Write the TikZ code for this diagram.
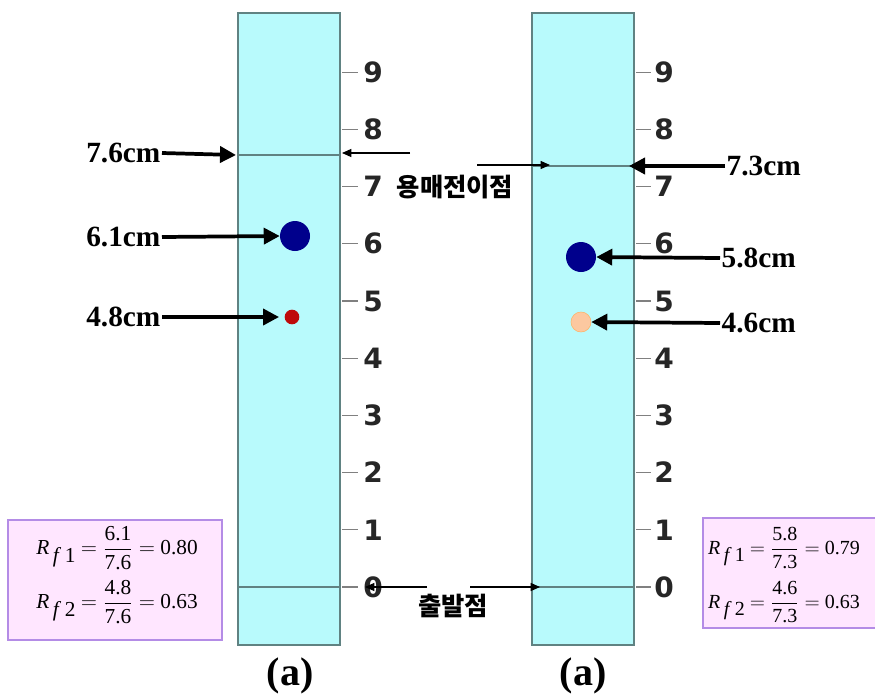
\RequirePackage{fix-cm}
\documentclass[tikz,border=0pt]{standalone}
\usepackage{amsmath}
\usepackage{fontspec}
\setmainfont{Liberation Serif}
\newfontfamily\numfont{DejaVu Sans}
\newfontfamily\krfont{Noto Sans CJK KR}
\usetikzlibrary{arrows.meta,positioning,calc}
\definecolor{stripfill}{RGB}{184,250,252}
\definecolor{stripline}{RGB}{96,130,130}
\definecolor{boxfill}{RGB}{255,230,255}
\definecolor{boxline}{RGB}{180,140,230}
\definecolor{spotblue}{RGB}{0,0,140}
\definecolor{spotred}{RGB}{190,10,10}
\definecolor{spotpeach}{RGB}{252,200,160}
\newcommand{\rfline}[4]{\textit{R}\raisebox{-0.75ex}{\,\textit{f}\,#1}\ $=\dfrac{\text{#2}}{\text{#3}}=$ #4}
\tikzset{
  strip/.style={draw=stripline, fill=stripfill, line width=1.5pt, minimum width=76.5pt, minimum height=474pt, inner sep=0pt},
  line/.style={draw=stripline, line width=1.3pt},
  tick/.style={draw=black!50, line width=0.9pt},
  num/.style={font=\numfont\bfseries\fontsize{21}{23}\selectfont, text=black!85, inner sep=0pt},
  cmlabel/.style={font=\bfseries\fontsize{22}{25}\selectfont, inner sep=1pt},
  krlabel/.style={font=\krfont\bfseries\fontsize{19}{21}\selectfont, inner sep=1pt},
  caption/.style={font=\bfseries\fontsize{30}{33}\selectfont, inner sep=0pt},
  spot/.style={circle, inner sep=0pt},
  formbox/.style={draw=boxline, fill=boxfill, line width=1pt, inner sep=0pt},
  form/.style={font=\fontsize{16}{18}\selectfont, inner sep=0pt},
  arrow/.style={-{Triangle[length=12pt,width=12pt]}, line width=2.8pt},
  thinarrow/.style={-{Triangle[length=7pt,width=6pt]}, line width=0.9pt}
}

\begin{document}
\begin{tikzpicture}[x=0.75pt,y=-0.75pt]
\useasboundingbox (0,0) rectangle (875,700);
% strips
\node[strip] (stripL) at (289,329) {};
\node[strip] (stripR) at (582.5,329) {};
% scale
\foreach \v in {0,...,9} {
  \draw[tick] (342,{587-57.2*\v}) -- (358,{587-57.2*\v});
  \node[num] (numL\v) at (373,{587-57.2*\v}) {\v};
  \draw[tick] (636,{587-57.2*\v}) -- (651,{587-57.2*\v});
  \node[num] (numR\v) at (664,{587-57.2*\v}) {\v};
}
% front and start lines
\coordinate (frontLw) at (238,155);
\coordinate (frontLe) at (340,155);
\coordinate (frontRw) at (531,166);
\coordinate (frontRe) at (634,166);
\coordinate (startLe) at (340,587);
\coordinate (startRw) at (531,587);
\draw[line] (frontLw) -- (frontLe);
\draw[line] (frontRw) -- (frontRe);
\draw[line] (238,587) -- (startLe);
\draw[line] (startRw) -- (634,587);
% spots
\node[spot, fill=spotblue, minimum size=22.5pt] (blueL) at (295,236) {};
\node[spot, fill=spotred, minimum size=11pt] (redL) at (292,317) {};
\node[spot, fill=spotblue, minimum size=22.5pt] (blueR) at (581,257) {};
\node[spot, fill=spotpeach, draw=orange!60, minimum size=15pt] (peachR) at (581,322) {};
% distance labels
\node[cmlabel, anchor=east] (frontLlbl) at (162,153) {7.6cm};
\node[cmlabel, anchor=east] (blueLlbl) at (162,237) {6.1cm};
\node[cmlabel, anchor=east] (redLlbl) at (162,317) {4.8cm};
\node[cmlabel, anchor=west] (frontRlbl) at (725,166) {7.3cm};
\node[cmlabel, anchor=west] (blueRlbl) at (720,258) {5.8cm};
\node[cmlabel, anchor=west] (peachRlbl) at (720,323) {4.6cm};
\draw[arrow] (frontLlbl.east) -- ($(frontLw)+(-2,0)$);
\draw[arrow] (blueLlbl.east) -- (blueL.west);
\draw[arrow] (redLlbl.east) -- ([xshift=-4]redL.west);
\draw[arrow] (frontRlbl.west) -- ($(frontRe)+(-5,0)$);
\draw[arrow] (blueRlbl.west) -- (blueR.east);
\draw[arrow] (peachRlbl.west) -- (peachR.east);
% solvent front / origin
\node[krlabel] (front) at (455,187) {용매전이점};
\node[krlabel] (origin) at (453,606) {출발점};
\coordinate (frontA) at (410,153);
\coordinate (frontB) at (477,165);
\coordinate (originA) at (427,587);
\coordinate (originB) at (470,587);
\draw[thinarrow] (frontA) -- ($(frontLe)+(2,-2)$);
\draw[thinarrow] (frontB) -- ($(frontRw)+(19,-1)$);
\draw[thinarrow] (originA) -- (365,587);
\draw[thinarrow] (originB) -- ($(startRw)+(9,0)$);
% Rf boxes
\node[formbox, minimum width=160.5pt, minimum height=90pt] (boxL) at (115,580) {};
\node[formbox, minimum width=132pt, minimum height=82.5pt] (boxR) at (791,573) {};
\node[form] (rfL1) at (117,548) {\rfline{1}{6.1}{7.6}{0.80}};
\node[form] (rfL2) at (117,602) {\rfline{2}{4.8}{7.6}{0.63}};
\node[form, font=\fontsize{15}{17}\selectfont] (rfR1) at (784,548) {\rfline{1}{5.8}{7.3}{0.79}};
\node[form, font=\fontsize{15}{17}\selectfont] (rfR2) at (784,602) {\rfline{2}{4.6}{7.3}{0.63}};
% captions
\node[caption] (capL) at (290,676) {(a)};
\node[caption] (capR) at (583,676) {(a)};
\end{tikzpicture}
\end{document}
